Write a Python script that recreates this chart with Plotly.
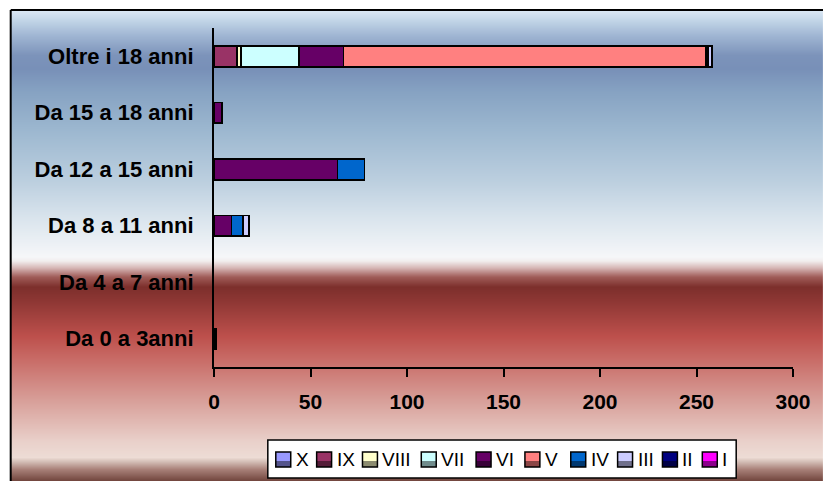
import base64
import struct
import zlib

import numpy as np
import plotly.graph_objects as go

# ---------------- data ----------------
categories = ["Da 0 a 3anni", "Da 4 a 7 anni", "Da 8 a 11 anni",
              "Da 12 a 15 anni", "Da 15 a 18 anni", "Oltre i 18 anni"]
series_names = ["X", "IX", "VIII", "VII", "VI", "V", "IV", "III", "II", "I"]
val_X = [0, 0, 0, 0, 0, 0]
val_IX = [0, 0, 0, 0, 0, 12]
val_VIII = [0, 0, 0, 0, 0, 2]
val_VII = [0, 0, 0, 0, 0, 30]
val_VI = [0, 0, 9, 64, 4, 23]
val_V = [0, 0, 0, 0, 0, 188]
val_IV = [0, 0, 6, 14, 0, 1]
val_III = [0, 0, 3, 0, 0, 2]
val_II = [1, 0, 0, 0, 0, 0]
val_I = [0, 0, 0, 0, 0, 0]
x_ticks = [0, 50, 100, 150, 200, 250, 300]

series_values = [val_X, val_IX, val_VIII, val_VII, val_VI,
                 val_V, val_IV, val_III, val_II, val_I]

# ---------------- styles ----------------
colors = ["#9999ff", "#993366", "#ffffcc", "#ccffff", "#660066",
          "#ff8080", "#0066cc", "#ccccff", "#000080", "#ff00ff"]
FONT = "Liberation Sans"
W, H = 823, 481
L, R, T, B = 214, 795, 28, 367   # plot area in pixels


def px_x(p):
    return (p - L) / (R - L)


def px_y(p):
    return (B - p) / (B - T)


def darker(hexc, f):
    h = hexc.lstrip("#")
    r, g, b = (int(h[i:i + 2], 16) for i in (0, 2, 4))
    return "#%02x%02x%02x" % (int(r * f), int(g * f), int(b * f))


# ---------------- background gradient (PNG) ----------------
stops = [
    (10, "#dbe8f4"), (20, "#c2d5e7"), (35, "#a0b6d3"), (55, "#7c93ba"),
    (68, "#7890b8"), (90, "#86a2c2"), (130, "#9db8d0"), (180, "#bccfdf"),
    (220, "#dce6ee"), (256, "#f6f7f9"), (260, "#f2eeee"), (267, "#d6b6b5"),
    (276, "#a05c58"), (286, "#7d2f2c"), (300, "#8e3734"), (335, "#bd504c"),
    (360, "#c96e69"), (400, "#d8a09a"), (440, "#e9d0ca"), (456, "#eddcd5"),
    (460, "#d5c0b8"), (468, "#a88078"), (481, "#6a3e36"),
]
ys = np.array([s[0] for s in stops], dtype=float)
rgb = np.array([[int(s[1][i:i + 2], 16) for i in (1, 3, 5)] for s in stops], dtype=float)
rows_y = np.arange(10, 482)
img_h = len(rows_y)
img_w = 2
raw = b""
for yy in rows_y:
    c = [int(round(np.interp(yy, ys, rgb[:, k]))) for k in range(3)]
    raw += b"\x00" + bytes(c) * img_w


def chunk(tag, data):
    return (struct.pack(">I", len(data)) + tag + data +
            struct.pack(">I", zlib.crc32(tag + data) & 0xFFFFFFFF))


png = (b"\x89PNG\r\n\x1a\n" +
       chunk(b"IHDR", struct.pack(">IIBBBBB", img_w, img_h, 8, 2, 0, 0, 0)) +
       chunk(b"IDAT", zlib.compress(raw, 9)) +
       chunk(b"IEND", b""))
png_uri = "data:image/png;base64," + base64.b64encode(png).decode()

# ---------------- figure ----------------
fig = go.Figure()
for name, vals, col in zip(series_names, series_values, colors):
    fig.add_trace(go.Bar(
        name=name,
        y=categories,
        x=[v if v else None for v in vals],
        orientation="h",
        marker=dict(color=col, line=dict(color="black", width=1.6)),
        showlegend=False,
        hoverinfo="x+name",
    ))

shapes = []
annotations = []

# outer frame (only top and left edges are inside the picture)
shapes.append(dict(type="line", xref="paper", yref="paper",
                   x0=px_x(10), x1=px_x(900), y0=px_y(10), y1=px_y(10),
                   line=dict(color="black", width=2), layer="above"))
shapes.append(dict(type="line", xref="paper", yref="paper",
                   x0=px_x(10), x1=px_x(10), y0=px_y(10), y1=px_y(520),
                   line=dict(color="black", width=2), layer="above"))

# custom legend
legend_x = [276, 317, 363, 422, 477, 526, 572, 619, 664, 704]
shapes.append(dict(type="rect", xref="paper", yref="paper",
                   x0=px_x(268), x1=px_x(738), y0=px_y(440), y1=px_y(478),
                   line=dict(color="black", width=1.5), fillcolor="white",
                   layer="above"))
for name, col, lx in zip(series_names, colors, legend_x):
    shapes.append(dict(type="rect", xref="paper", yref="paper",
                       x0=px_x(lx), x1=px_x(lx + 15), y0=px_y(452), y1=px_y(461),
                       line=dict(width=0), fillcolor=col, layer="above"))
    shapes.append(dict(type="rect", xref="paper", yref="paper",
                       x0=px_x(lx), x1=px_x(lx + 15), y0=px_y(461), y1=px_y(467),
                       line=dict(width=0), fillcolor=darker(col, 0.55), layer="above"))
    shapes.append(dict(type="rect", xref="paper", yref="paper",
                       x0=px_x(lx), x1=px_x(lx + 15), y0=px_y(452), y1=px_y(467),
                       line=dict(color="black", width=1.5), fillcolor="rgba(0,0,0,0)",
                       layer="above"))
    annotations.append(dict(xref="paper", yref="paper", x=px_x(lx + 18), y=px_y(459.5),
                            text=name, showarrow=False, xanchor="left", yanchor="middle",
                            font=dict(family=FONT, size=19, color="black")))

fig.update_layout(
    width=W, height=H, autosize=False,
    margin=dict(l=L, r=W - R, t=T, b=H - B, pad=0),
    paper_bgcolor="white",
    plot_bgcolor="rgba(0,0,0,0)",
    barmode="stack",
    bargap=0.63,
    showlegend=False,
    shapes=shapes,
    annotations=annotations,
    images=[dict(source=png_uri, xref="paper", yref="paper",
                 x=px_x(10), y=px_y(10), sizex=(W - 10 + 2) / (R - L),
                 sizey=(H - 10 + 2) / (B - T), xanchor="left", yanchor="top",
                 sizing="stretch", layer="below")],
    xaxis=dict(range=[0, 300], tickvals=x_ticks, ticks="outside", ticklen=8,
               tickwidth=2, tickcolor="black", showline=True, linecolor="black",
               linewidth=2, showgrid=False, zeroline=False, ticklabelstandoff=7,
               tickfont=dict(family=FONT, size=21, color="black", weight="bold")),
    yaxis=dict(categoryorder="array", categoryarray=categories, ticks="",
               showline=True, linecolor="black", linewidth=2, showgrid=False,
               zeroline=False, ticklabelstandoff=14,
               tickfont=dict(family=FONT, size=22, color="black", weight="bold")),
)

fig.write_html("out.html",
               config={"displayModeBar": False},
               post_script="document.body.style.margin='0px';"
                           "document.body.style.padding='0px';")
